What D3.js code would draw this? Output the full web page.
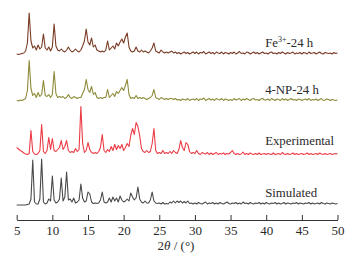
<!DOCTYPE html>
<html>
<head>
<meta charset="utf-8">
<script src="https://cdn.jsdelivr.net/npm/d3@7"></script>
<style>
  body { margin: 0; background: #fff; }
  svg { display: block; }
</style>
</head>
<body>
<svg id="chart" width="358" height="267"></svg>
<script>
// 2theta grid: 5 to 50 in steps of 0.25 deg (181 points per pattern)
let thetaStart = 5;
let thetaStep = 0.25;

let xTicks = [5, 10, 15, 20, 25, 30, 35, 40, 45, 50];

let seriesNames = ["Simulated", "Experimental", "4-NP-24 h", "Fe3+-24 h"];
let seriesOffsets = [16, 65.5, 119.5, 166];

// intensities above each pattern's own baseline
let simulated = [
  0, 0, 0, 0, 0, 0, 0.5, 1, 6, 45, 3, 1, 1, 6, 46, 3, 1, 2, 6, 4,
  29, 5, 2, 3, 6, 27, 4, 8, 33, 5, 6, 3, 7, 2, 3, 5, 21, 7, 3, 4,
  13, 11, 3, 1.5, 2, 1.5, 2, 5, 13, 3, 2, 3, 7, 3, 8, 4, 7, 3, 9, 5,
  3, 4, 6, 4, 12, 8, 5, 7, 18, 6, 3, 2, 4, 2, 2, 5, 13, 4, 2, 1.5,
  2, 1, 2.5, 1, 1.5, 1, 3, 2, 4, 2, 4, 2.5, 4, 2, 3.5, 2, 4, 1.5, 2, 1,
  2, 1, 2.5, 1.5, 1, 2, 3, 1, 2, 1.5, 2.5, 1, 2, 1, 2.5, 1.5, 1, 2, 3, 1.5,
  1, 2, 1.5, 2.5, 1, 2, 1, 3, 1.5, 2, 1, 2.5, 1.5, 1, 2, 1.5, 2.5, 1, 2, 1,
  2.5, 1.5, 1, 2, 1.5, 2.5, 1, 2, 1, 1.5, 2.5, 1, 2, 1.5, 1, 2, 1.5, 2.5, 1, 2,
  1.5, 1, 2, 1.5, 2.5, 1, 2, 1, 1.5, 2, 1, 2.5, 1.5, 1, 2, 1.5, 1, 2, 1.5, 1,
  1.5
];

let experimental = [
  8, 6.5, 5, 4, 2.5, 1.5, 1, 2, 25, 4, 1.5, 1, 2, 5, 31, 4, 2, 5, 18, 6,
  17, 5, 4, 6, 8, 15, 6, 9, 15, 5, 3, 4, 3, 7, 4, 6, 49, 12, 3, 5,
  13, 6, 3, 2, 3, 2, 4, 8, 21, 5, 3, 6, 4, 9, 5, 11, 6, 10, 7, 11,
  5, 8, 12, 9, 20, 27, 21, 33, 29, 20, 7, 4, 3, 5, 3, 4, 12, 27, 5, 2,
  3, 2, 5, 2, 3, 2, 4, 2, 5, 3, 2, 6, 15, 8, 5, 13, 11, 4, 2, 3,
  2, 5, 2, 1, 3, 2, 1.5, 3, 1, 2.5, 1, 2, 3, 1, 2, 1.5, 2.5, 1, 2, 1.5,
  3, 5, 2, 1, 2, 1, 1.5, 3.5, 1, 2, 1, 2.5, 1.5, 1, 2, 1, 2.5, 1, 1.5, 2,
  1, 2, 1.5, 1, 2.5, 1, 1.5, 2, 1, 3, 1.5, 1, 2, 1, 1.5, 2.5, 1, 2, 1, 1.5,
  2, 1, 1.5, 2.5, 1, 2, 1, 1.5, 2, 1, 2.5, 1.5, 1, 2, 1, 1.5, 2, 1, 1.5, 2,
  1.5
];

let np24h = [
  1, 0.5, 1.5, 1, 2, 3, 11, 41, 13, 6, 8, 4, 9, 5, 7, 21, 6, 5, 7, 4,
  7, 30, 8, 4, 5, 4, 5, 3, 4, 7, 4, 3, 5, 4, 3, 4, 4, 8, 12, 22,
  12, 9, 15, 7, 9, 4, 3, 4, 3, 4, 4, 12, 4, 6, 8, 5, 10, 8, 11, 14,
  11, 16, 22, 7, 3, 4, 3, 6, 3, 4, 3, 4, 3, 2, 3, 4, 6, 12, 4, 3,
  2, 4, 3, 2, 3, 2, 3, 3, 2, 3, 1.5, 2, 1, 2.5, 2, 1.5, 3, 1, 2, 2.5,
  1.5, 3, 1, 2.5, 2, 3.5, 1, 2, 3, 1.5, 2.5, 1, 3, 2, 1.5, 3, 1, 2.5, 2, 1,
  2, 1, 3, 1.5, 2, 3, 1, 2.5, 1.5, 3, 2, 1, 2.5, 3, 1.5, 2, 1, 2.5, 3, 1.5,
  1.5, 2.5, 1, 3, 2, 1, 2.5, 2, 1, 3, 1.5, 2.5, 1, 2, 3, 1.5, 2, 1, 2.5, 2,
  1, 2, 2.5, 1.5, 3, 1, 2, 1.5, 2.5, 1, 2, 3, 1, 1.5, 2.5, 2, 1, 2, 1.5, 1,
  1.5
];

let fe24h = [
  1, 0.5, 1, 1.5, 2, 4, 12, 42, 14, 7, 9, 5, 10, 6, 8, 21, 7, 5, 8, 4,
  8, 31, 9, 5, 4, 6, 4, 3, 5, 8, 5, 3, 4, 6, 4, 3, 5, 9, 14, 26,
  13, 10, 17, 8, 10, 5, 4, 3, 4, 3, 5, 14, 5, 7, 9, 6, 12, 9, 13, 16,
  12, 18, 22, 8, 4, 3, 4, 8, 4, 3, 5, 3, 4, 3, 2, 4, 7, 12, 4, 3,
  2, 5, 3, 2, 3, 2, 3, 4, 2, 3, 1.5, 2.5, 1, 2, 3, 1.5, 2.5, 1, 2, 3,
  1.5, 3, 1, 2.5, 2, 3.5, 1, 2, 3, 1.5, 2.5, 1, 3, 2, 1.5, 3, 1, 2.5, 2, 1,
  2.5, 1.5, 3, 1, 2, 3.5, 1.5, 2, 1, 3, 2.5, 1, 2, 3, 1.5, 2.5, 1, 2, 3, 1.5,
  2, 1, 2.5, 3, 1.5, 2, 1, 2.5, 1.5, 3, 2, 1, 2.5, 1.5, 2, 3, 1, 2, 1.5, 2.5,
  1, 2.5, 2, 1, 3, 1.5, 2, 2.5, 1, 2, 3, 1.5, 1, 2.5, 2, 1.5, 2, 1, 2.5, 1.5,
  2
];

let seriesValues = [simulated, experimental, np24h, fe24h];
let seriesColors = ["#4a4a4a", "#ec3b45", "#8e8b3a", "#7a3b25"];
let labelGaps = [8, 11, 8, 8];

let svg = d3.select("#chart");
let serif = "'Liberation Serif', 'Times New Roman', serif";

let x = d3.scaleLinear()
  .domain([5, 50])
  .range([16.7, 337.5]);

let y = d3.scaleLinear()
  .domain([0, 210])
  .range([221, 11]);

let line = d3.line()
  .x(function(d, i) { return x(thetaStart + i*thetaStep); })
  .y(function(d) { return y(d); });

// draw patterns
for (let s = 0; s < seriesNames.length; s++) {
  let vals = seriesValues[s].map(function(v) { return v + seriesOffsets[s]; });
  svg.append("path")
    .datum(vals)
    .attr("d", line)
    .attr("fill", "none")
    .attr("stroke", seriesColors[s])
    .attr("stroke-width", 1.1)
    .attr("stroke-linejoin", "round");

  let label = svg.append("text")
    .attr("x", x(39.85))
    .attr("y", y(seriesOffsets[s]) - labelGaps[s])
    .style("font-family", serif)
    .style("font-size", "12.8px")
    .style("fill", "#2a2a2a");
  if (seriesNames[s] == "Fe3+-24 h") {
    label.append("tspan").text("Fe");
    label.append("tspan").attr("dy", -5).style("font-size", "8px").text("3+");
    label.append("tspan").attr("dy", 5).text("-24 h");
  } else {
    label.text(seriesNames[s]);
  }
}

// x-axis, ticks pointing up
let axis = svg.append("g")
  .attr("transform", "translate(0,220)")
  .call(d3.axisBottom(x)
    .tickValues(xTicks)
    .tickSizeInner(-5)
    .tickSizeOuter(0)
    .tickPadding(6));
axis.select(".domain").attr("stroke", "#333").attr("stroke-width", 1);
axis.selectAll(".tick line").attr("stroke", "#333").attr("stroke-width", 1);
axis.selectAll("text")
  .style("font-family", serif)
  .style("font-size", "13px")
  .style("fill", "#2a2a2a");

let title = svg.append("text")
  .attr("x", 176)
  .attr("y", 250)
  .attr("text-anchor", "middle")
  .style("font-family", serif)
  .style("font-size", "13px")
  .style("fill", "#2a2a2a");
title.append("tspan").text("2");
title.append("tspan").style("font-style", "italic").text("\u03b8");
title.append("tspan").text(" / (\u00b0)");
</script>
</body>
</html>
